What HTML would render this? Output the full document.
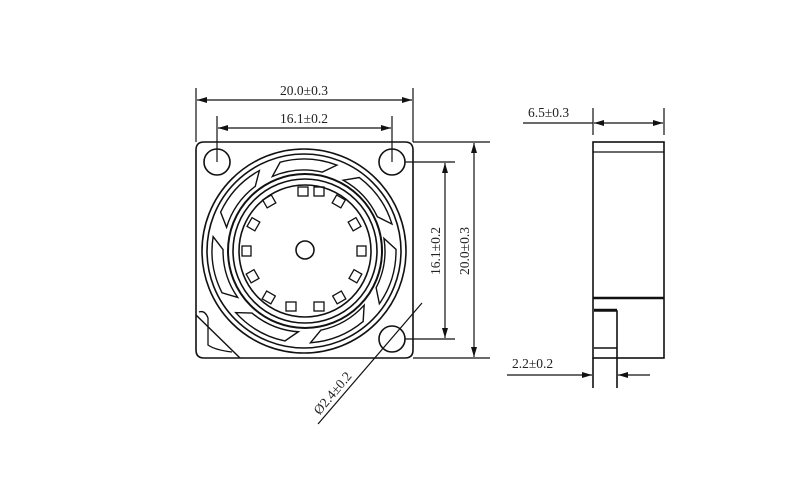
<!DOCTYPE html><html><head><style>body{margin:0;background:#fff}svg{display:block}text{font-family:"Liberation Serif",serif;font-size:13.5px;fill:#222;stroke:none}</style></head><body>
<svg width="800" height="500" viewBox="0 0 800 500" fill="none" stroke="#111" stroke-width="1.6">
<defs><marker id="a" viewBox="0 0 10 6" refX="10" refY="3" markerWidth="10" markerHeight="6" orient="auto-start-reverse" markerUnits="userSpaceOnUse"><path d="M0,0L10,3L0,6z" fill="#111" stroke="none"/></marker>
<path id="b" d="M77,-25 L90.6,-16 A92,92 0 0 1 82.7,40.3 L77,25 A81,81 0 0 0 77,-25Z" stroke-width="1.4"/></defs>
<path d="M204,142H405Q413,142 413,150V350Q413,358 405,358H204Q196,358 196,350V150Q196,142 204,142Z"/>
<path d="M196,315L240,358" stroke-width="1.4"/>
<path d="M199,312Q205,310 208,318L208,345Q215,350 232,352" stroke-width="1.3"/>
<circle cx="217" cy="162" r="13"/><circle cx="392" cy="162" r="13"/><circle cx="392" cy="339" r="13"/>
<circle cx="304" cy="251" r="102"/><circle cx="304" cy="251" r="97"/>
<g transform="translate(304 251)">
<use href="#b" transform="rotate(-95)"/><use href="#b" transform="rotate(-43)"/><use href="#b" transform="rotate(9)"/><use href="#b" transform="rotate(60)"/><use href="#b" transform="rotate(112)"/><use href="#b" transform="rotate(163)"/><use href="#b" transform="rotate(215)"/>
</g>
<circle cx="305" cy="251" r="77" stroke-width="2" fill="#fff"/><circle cx="305" cy="251" r="72"/><circle cx="305" cy="251" r="66"/>
<circle cx="305" cy="250" r="9"/>
<g stroke-width="1.3">
<rect x="298" y="187" width="10" height="9"/><rect x="334" y="197" width="10" height="9" transform="rotate(30 339 201)"/><rect x="350" y="220" width="10" height="9" transform="rotate(60 355 224)"/><rect x="357" y="246" width="9" height="10"/><rect x="350" y="272" width="10" height="9" transform="rotate(-60 355 276)"/><rect x="334" y="293" width="10" height="9" transform="rotate(-30 339 297)"/><rect x="314" y="302" width="10" height="9"/><rect x="286" y="302" width="10" height="9"/><rect x="264" y="293" width="10" height="9" transform="rotate(30 269 297)"/><rect x="248" y="272" width="10" height="9" transform="rotate(60 253 276)"/><rect x="242" y="246" width="9" height="10"/><rect x="248" y="220" width="10" height="9" transform="rotate(-60 253 224)"/><rect x="264" y="197" width="10" height="9" transform="rotate(-30 269 201)"/><rect x="314" y="187" width="10" height="9"/>
</g>
<g stroke-width="1.2">
<path d="M196,88V142M413,88V142M217,116V162M392,116V162"/>
<path d="M197,100H412" marker-start="url(#a)" marker-end="url(#a)"/>
<path d="M218,128H391" marker-start="url(#a)" marker-end="url(#a)"/>
<path d="M413,142H490M413,358H490M405,162H455M405,339H455"/>
<path d="M445,163V338" marker-start="url(#a)" marker-end="url(#a)"/>
<path d="M474,143V357" marker-start="url(#a)" marker-end="url(#a)"/>
<path d="M318,424L422,303"/>
</g>
<text x="304" y="95" text-anchor="middle">20.0±0.3</text>
<text x="304" y="123" text-anchor="middle">16.1±0.2</text>
<text transform="translate(440,251) rotate(-90)" text-anchor="middle">16.1±0.2</text>
<text transform="translate(469,251) rotate(-90)" text-anchor="middle">20.0±0.3</text>
<text transform="translate(336,396) rotate(-50)" text-anchor="middle">Ø2.4±0.2</text>
<rect x="593" y="142" width="71" height="216"/>
<path d="M593,152H664" stroke-width="1.3"/>
<path d="M593,298H664" stroke-width="2.4"/>
<path d="M594,311H617V388M594,348H617M593,358V388" stroke-width="1.6"/>
<path d="M594,310H617" stroke-width="2.4"/>
<g stroke-width="1.2">
<path d="M593,108V135M664,108V135M523,123H593"/>
<path d="M594,123H663" marker-start="url(#a)" marker-end="url(#a)"/>
<path d="M507,375H592" marker-end="url(#a)"/>
<path d="M650,375H618" marker-end="url(#a)"/>
</g>
<text x="528" y="117">6.5±0.3</text>
<text x="512" y="368">2.2±0.2</text>
</svg></body></html>
